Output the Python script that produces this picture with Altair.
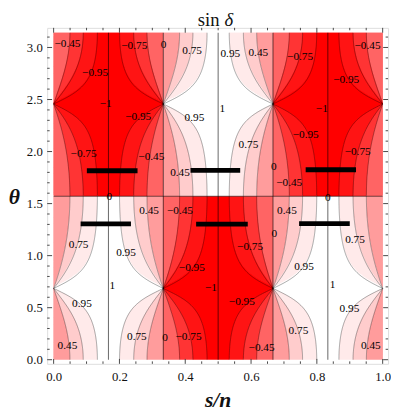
import numpy as np
import pandas as pd
import altair as alt

# ---------------- values ----------------
levels = [0.45, 0.75, 0.95]            # |sin δ| contour levels
theta_node = 0.685                     # θ where all contours meet (and π − θ)
cell_edges = [0.0, 1 / 3, 2 / 3, 1.0]  # s/n positions of the sin δ = 0 lines
pos_colors = ["#FF9C9C", "#FFCCCC", "#FFEAEA", "#FFFFFF"]
neg_colors = ["#FF6464", "#FF3434", "#FF1414", "#FF0000"]

label_text = ["−0.45", "−0.75", "0", "−0.95", "−1", "−0.95", "−0.75", "−0.45", "0",
              "0.75", "0.95", "0.45", "0.95", "1", "0.75", "0.45", "0",
              "−0.75", "−0.45", "−0.95", "−1", "−0.95", "−0.75", "−0.45", "0",
              "0.45", "0.75", "0.95", "1", "0.95", "0.45", "0.75", "0",
              "−0.45", "−0.75", "0", "−0.95", "−1", "−0.95", "−0.75", "−0.45",
              "0.45", "0.75", "0.95", "1", "0.95", "0.75", "0.45"]
label_x = [0.042, 0.245, 0.334, 0.126, 0.158, 0.257, 0.091, 0.297, 0.169,
           0.421, 0.537, 0.622, 0.428, 0.513, 0.592, 0.384, 0.669,
           0.749, 0.954, 0.889, 0.815, 0.766, 0.924, 0.716, 0.833,
           0.290, 0.076, 0.220, 0.178, 0.086, 0.042, 0.253, 0.339,
           0.384, 0.597, 0.671, 0.420, 0.478, 0.572, 0.410, 0.632,
           0.709, 0.916, 0.761, 0.848, 0.899, 0.744, 0.964]
label_theta = [3.030, 3.015, 3.020, 2.758, 2.458, 2.336, 1.975, 1.944, 1.558,
               2.968, 2.937, 2.944, 2.326, 2.410, 2.066, 1.793, 1.850,
               2.912, 3.015, 2.686, 2.410, 2.154, 1.991, 1.694, 1.553,
               1.427, 1.098, 1.026, 0.712, 0.534, 0.127, 0.221, 0.205,
               1.433, 1.079, 1.208, 0.885, 0.688, 0.556, 0.220, 0.111,
               1.427, 1.145, 0.895, 0.719, 0.484, 0.274, 0.127]

bar_x1 = [0.082, 0.433, 0.746, 0.101, 0.416, 0.766]
bar_x2 = [0.235, 0.590, 0.900, 0.255, 0.567, 0.919]
bar_theta = [1.305, 1.303, 1.308, 1.816, 1.819, 1.825]

x_major = [0.0, 0.2, 0.4, 0.6, 0.8, 1.0]
x_minor = [0.05, 0.1, 0.15, 0.25, 0.3, 0.35, 0.45, 0.5, 0.55, 0.65, 0.7, 0.75, 0.85, 0.9, 0.95]
y_major = [0.0, 0.5, 1.0, 1.5, 2.0, 2.5, 3.0]
y_minor = [0.1, 0.2, 0.3, 0.4, 0.6, 0.7, 0.8, 0.9, 1.1, 1.2, 1.3, 1.4, 1.6, 1.7, 1.8, 1.9,
           2.1, 2.2, 2.3, 2.4, 2.6, 2.7, 2.8, 2.9, 3.1]

# ---------------- sin δ model: tan δ = tan(3π s/n) / r(θ) ----------------
t0sq = np.tan(theta_node) ** 2


def ratio(th):
    c2, s2 = np.cos(th) ** 2, np.sin(th) ** 2
    return np.abs((t0sq * c2 - s2) / (t0sq * c2 + s2))


def offset(L, th):
    return np.arctan(ratio(th) * L / np.sqrt(1 - L * L)) / (3 * np.pi)


# fine sampling for the contour curves
th_lo = np.unique(np.concatenate([np.linspace(0, np.pi / 2, 401), [theta_node]]))
th_hi = np.sort(np.pi - th_lo)
# slices for the filled bands (about one pixel tall)
edges_lo = np.unique(np.concatenate([np.linspace(0, np.pi / 2, 171), [theta_node]]))
edges_hi = np.sort(np.pi - edges_lo)
overlap = 0.014

rects, curves = [], []
pid = 0
for k in range(3):
    a, b = cell_edges[k], cell_edges[k + 1]
    for half, ths, edg in (("lo", th_lo, edges_lo), ("hi", th_hi, edges_hi)):
        sign = (1 if k % 2 == 0 else -1) * (1 if half == "lo" else -1)
        cols = pos_colors if sign > 0 else neg_colors
        y1 = edg[:-1]
        y2 = np.minimum(edg[1:] + overlap, edg[-1])
        mid = 0.5 * (edg[:-1] + edg[1:])
        d = [np.zeros_like(mid)] + [offset(L, mid) for L in levels]
        strips = []
        for j in range(3):
            strips.append((a + d[j], a + d[j + 1], cols[j]))
            strips.append((b - d[j + 1], b - d[j], cols[j]))
        strips.append((a + d[3], b - d[3], cols[3]))
        for x1, x2, c in strips:
            rects.append(pd.DataFrame({"t1": y1, "t2": y2, "x1": x1, "x2": x2, "fill": c}))
        dl = [offset(L, ths) for L in levels]
        for j in range(3):
            for xs_ in (a + dl[j], b - dl[j]):
                curves.append(pd.DataFrame({"theta": ths, "x": xs_, "piece": pid}))
                pid += 1

rect_df = pd.concat(rects, ignore_index=True)
curve_df = pd.concat(curves, ignore_index=True)

vlines = pd.DataFrame({"x": [1 / 6, 1 / 3, 1 / 2, 2 / 3, 5 / 6]})
hline = pd.DataFrame({"theta": [np.pi / 2]})
labels = pd.DataFrame({"x": label_x, "theta": label_theta, "text": label_text})
bars = pd.DataFrame({"x1": bar_x1, "x2": bar_x2, "theta": bar_theta})

W, H = 348, 343
xdom = [-0.0196, 1.0164]
ydom = [-0.0395, 3.1886]
SERIF = "Liberation Serif"

xs = alt.Scale(domain=xdom, nice=False, zero=False)
ys = alt.Scale(domain=ydom, nice=False, zero=False)
ax_x = alt.Axis(values=x_major, format=".1f", ticks=False, tickSize=0, domain=False, grid=False,
                labelFont=SERIF, labelFontSize=13, labelPadding=7, labelColor="#111",
                title="s/n", titleFont=SERIF, titleFontSize=22, titleFontStyle="italic",
                titleFontWeight="bold", titleColor="#111", titleX=174, titleY=44,
                titleBaseline="alphabetic", titleAlign="center")
ax_y = alt.Axis(values=y_major, format=".1f", ticks=False, tickSize=0, domain=False, grid=False,
                labelFont=SERIF, labelFontSize=13, labelPadding=5, labelColor="#111",
                title="θ", titleFont=SERIF, titleFontSize=22, titleFontStyle="italic",
                titleFontWeight="bold", titleColor="#111", titleAngle=0, titleX=-34,
                titleY=172, titleBaseline="middle", titleAlign="center")


def X(f):
    return alt.X(f, type="quantitative", scale=xs, axis=ax_x)


def Y(f):
    return alt.Y(f, type="quantitative", scale=ys, axis=ax_y)


fill_layer = alt.Chart(rect_df).mark_rect(clip=True, strokeWidth=0).encode(
    x=X("x1"), x2="x2", y=Y("t1"), y2="t2",
    color=alt.Color("fill:N", scale=None))

curve_layer = alt.Chart(curve_df).mark_line(clip=True, color="#000", strokeOpacity=0.38, strokeWidth=0.9).encode(
    x=X("x"), y=Y("theta"), detail="piece:N", order="theta:Q")

vline_layer = alt.Chart(vlines).mark_rule(color="#000", strokeOpacity=0.55, strokeWidth=1.1).encode(
    x=X("x"), y=alt.value(H - 4.2), y2=alt.value(5))

hline_layer = alt.Chart(hline).mark_rule(color="#000", strokeOpacity=0.55, strokeWidth=1.1).encode(
    y=Y("theta"), x=alt.value(6.6), x2=alt.value(W - 5.5))

bar_layer = alt.Chart(bars).mark_rule(color="#000", strokeWidth=5, strokeCap="butt").encode(
    x=X("x1"), x2="x2", y=Y("theta"))

label_layer = alt.Chart(labels).mark_text(font=SERIF, fontSize=11.5, color="#000").encode(
    x=X("x"), y=Y("theta"), text="text:N")


def ticks(vals, channel, side, length):
    df = pd.DataFrame({"v": vals})
    m = alt.Chart(df).mark_rule(color="#333", strokeWidth=0.9)
    if channel == "x":
        y0 = H if side == "b" else 0
        y1 = H - length if side == "b" else length
        return m.encode(x=X("v"), y=alt.value(y0), y2=alt.value(y1))
    x0 = 0 if side == "l" else W
    x1 = length if side == "l" else W - length
    return m.encode(y=Y("v"), x=alt.value(x0), x2=alt.value(x1))


tick_layers = []
for side in ("b", "t"):
    tick_layers.append(ticks(x_major, "x", side, 5))
    tick_layers.append(ticks(x_minor, "x", side, 2.5))
for side in ("l", "r"):
    tick_layers.append(ticks(y_major, "y", side, 5))
    tick_layers.append(ticks(y_minor, "y", side, 2.5))

title_df = pd.DataFrame({"a": ["sin"], "b": ["δ"]})
title_sin = alt.Chart(title_df).mark_text(font=SERIF, fontSize=19, align="right", baseline="alphabetic",
                                          color="#111").encode(
    x=alt.value(176), y=alt.value(-2), text="a:N")
title_delta = alt.Chart(title_df).mark_text(font=SERIF, fontSize=19, fontStyle="italic", align="left",
                                            baseline="alphabetic", color="#111").encode(
    x=alt.value(181), y=alt.value(-2), text="b:N")

chart = alt.layer(fill_layer, curve_layer, vline_layer, hline_layer, label_layer, bar_layer,
                  *tick_layers, title_sin, title_delta).properties(
    width=W, height=H,
    autosize=alt.AutoSizeParams(type="none"),
    padding={"left": 40, "top": 16, "right": 3, "bottom": 49},
).configure_view(stroke="#444", strokeWidth=1).configure(background="white")

chart.save("out.html", embed_options={"renderer": "svg", "actions": False})
